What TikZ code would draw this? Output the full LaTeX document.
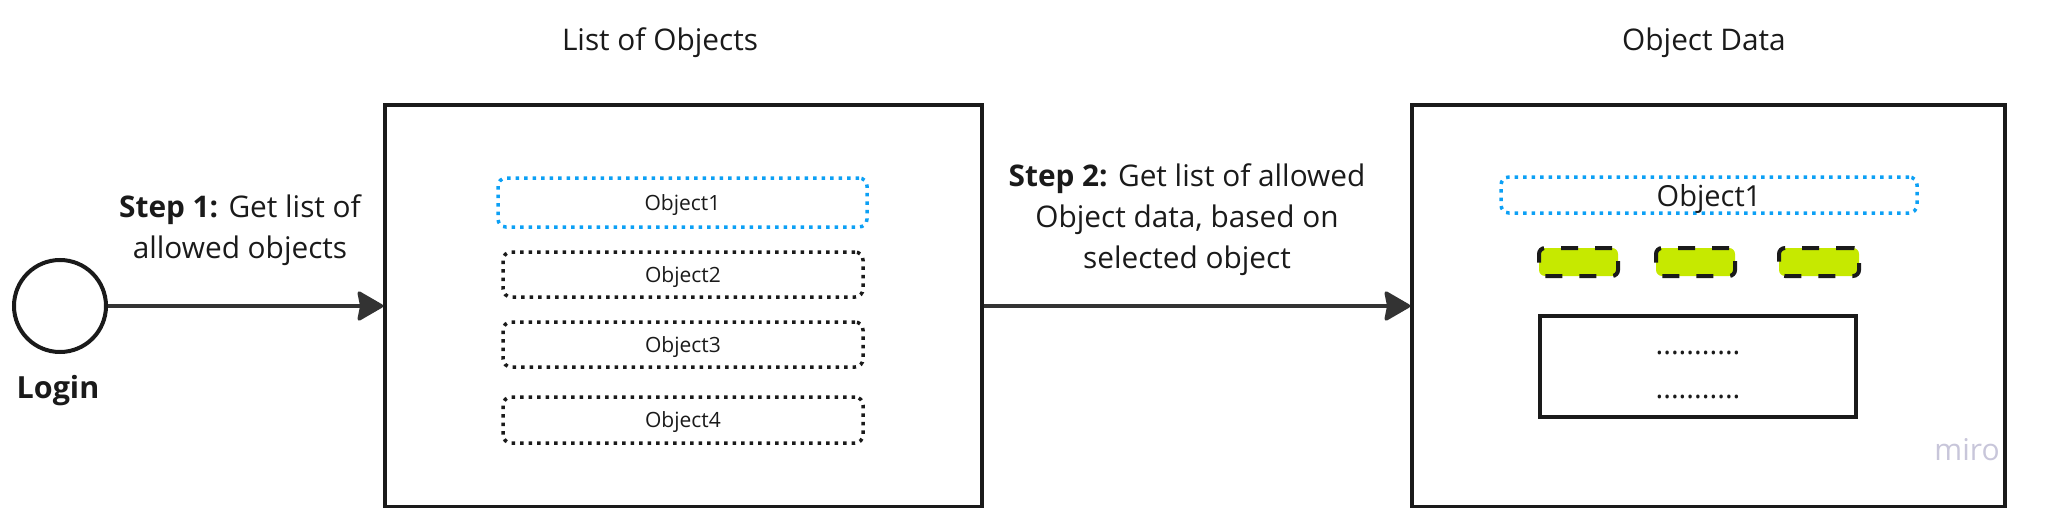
\documentclass[tikz,border=0pt]{standalone}
\usepackage{fontspec}
\setmainfont{Open Sans}
\usetikzlibrary{arrows.meta}
\definecolor{ink}{HTML}{1A1A1A}
\definecolor{arrowc}{HTML}{333333}
\definecolor{selblue}{HTML}{0CA0F5}
\definecolor{lime}{HTML}{C6E900}
\definecolor{miroc}{HTML}{C8C6DA}
\tikzset{
  frame/.style={draw=ink, line width=3.5pt, inner sep=0pt},
  objbox/.style={draw=ink, line width=3.5pt, dash pattern=on 3.5pt off 5pt, rounded corners=8pt,
    minimum width=360pt, minimum height=45pt, inner sep=0pt, text height=15pt, text depth=0pt,
    text=ink, font=\fontsize{21pt}{25pt}\selectfont},
  selbox/.style={objbox, draw=selblue},
  chip/.style={draw=ink, fill=lime, line width=4pt, dash pattern=on 17pt off 17pt, rounded corners=6pt,
    minimum width=79pt, minimum height=28pt, inner sep=0pt},
  flow/.style={draw=arrowc, line width=3.5pt, -{Stealth[length=28pt,width=32pt,inset=3pt,round]}},
  lbl/.style={text=ink, align=center, font=\fontsize{29.8pt}{41pt}\selectfont, inner sep=0pt},
  heading/.style={text=ink, font=\fontsize{29.8pt}{34pt}\selectfont, inner sep=0pt, anchor=base},
  dots/.style={text=ink, font=\fontsize{29pt}{34pt}\selectfont, inner sep=0pt, anchor=base},
}
\begin{document}
\begin{tikzpicture}[x=1pt,y=-1pt]
\useasboundingbox (0,0) rectangle (2048,508);
% login
\node[circle, draw=ink, line width=4pt, minimum size=92pt, inner sep=0pt] (login) at (60,306) {};
\node[text=ink, font=\fontsize{30.5pt}{34pt}\selectfont\bfseries, inner sep=0pt, anchor=base] (logintxt) at (58,398) {Login};
% frames
\node[frame, minimum width=597pt, minimum height=402pt] (lb) at (683.5,306) {};
\node[frame, minimum width=593pt, minimum height=402pt] (rb) at (1708.5,306) {};
\node[heading] (h1) at (660,51) {List of Objects};
\node[heading] (h2) at (1704,51) {Object Data};
% list objects
\node[selbox, minimum width=369pt, minimum height=49pt] (o1) at (682.5,202.5) {Object1};
\node[objbox] (o2) at (683,274.5) {Object2};
\node[objbox] (o3) at (683,344.5) {Object3};
\node[objbox, minimum height=46pt] (o4) at (683,420) {Object4};
% object data
\node[selbox, minimum width=416pt, minimum height=36pt, text height=22pt, font=\fontsize{29pt}{34pt}\selectfont] (r1) at (1709,195) {Object1};
\node[chip] (g1) at (1578.5,262) {};
\node[chip] (g2) at (1695.5,262) {};
\node[chip, minimum width=80pt] (g3) at (1819,262) {};
\node[frame, line width=4pt, minimum width=316pt, minimum height=101pt] (data) at (1698,366.5) {};
\node[dots] (d1) at (1698,354) {...........};
\node[dots] (d2) at (1698,398) {...........};
% arrows
\draw[flow] (login.east) -- (lb.west);
\draw[flow] (lb.east) -- (rb.west);
\node[lbl, anchor=base] (s1) at (240,258) {\textbf{Step 1:} Get list of\\allowed objects};
\node[lbl, anchor=base] (s2) at (1187,268) {\textbf{Step 2:} Get list of allowed\\Object data, based on\\selected object};
% watermark
\node[text=miroc, font=\fontsize{30pt}{34pt}\selectfont, inner sep=0pt, anchor=base] (miro) at (1967,460) {miro};
\end{tikzpicture}
\end{document}
